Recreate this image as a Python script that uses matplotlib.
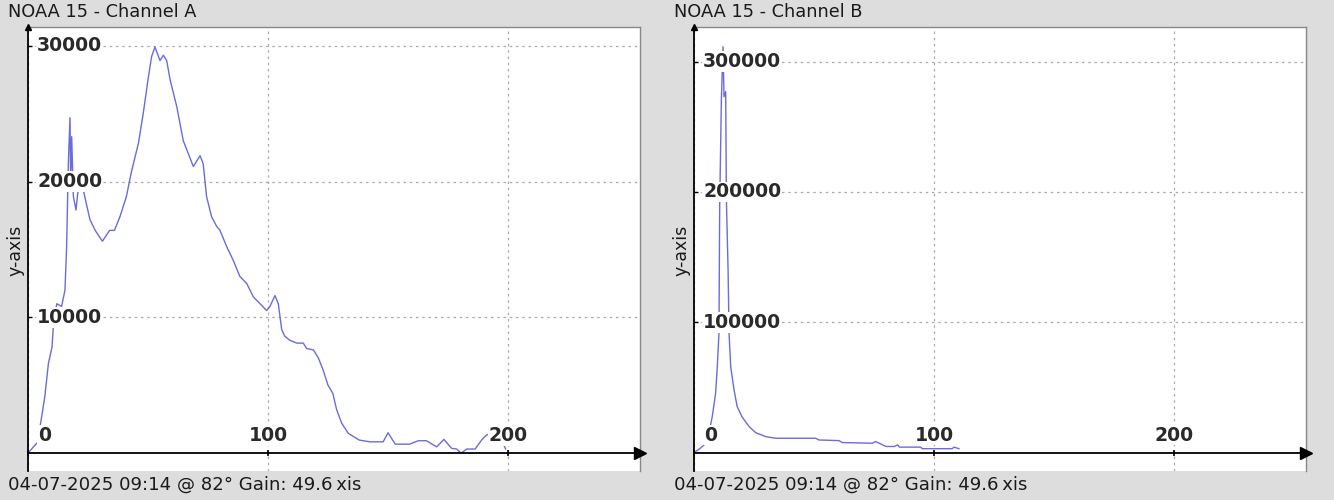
import matplotlib
matplotlib.use('Agg')
import matplotlib.pyplot as plt

# Дані каналу A
a_x = [0, 1, 4, 5.7, 7, 8.5, 10, 10.6, 12, 14, 15.4, 16.1, 16.8, 17.5, 17.8, 18.2, 18.9,
       20, 21, 23, 25.8, 28, 31, 34, 36, 38.3, 41, 43.2, 46, 48, 50, 51.5, 52.9, 55, 56.4,
       57.8, 59.2, 62, 64.7, 68.9, 71.7, 73, 74.4, 76.5, 78.6, 80, 82.8, 85.5, 88.3, 91.1,
       93.9, 96.7, 99.4, 100.8, 102.9, 104.3, 105.7, 107, 109.2, 112, 114.7, 116.1, 118.9,
       121, 123, 125, 127, 128.6, 130.7, 133.5, 138, 142.5, 148, 150, 153, 159, 162.6, 166,
       170.3, 173.3, 176.5, 178.6, 180.5, 182.8, 186.3, 189, 191, 194, 198, 199]
a_y = [0, 200, 800, 2700, 4150, 6600, 7800, 9500, 11000, 10800, 12000, 15200, 21300, 24700,
       19700, 23300, 18900, 17900, 19600, 19400, 17200, 16400, 15600, 16400, 16400, 17400,
       18900, 20800, 22800, 25000, 27500, 29200, 29900, 28900, 29300, 28900, 27500, 25500,
       23000, 21100, 21900, 21300, 18900, 17400, 16700, 16400, 15200, 14200, 13000, 12500,
       11500, 11000, 10500, 10800, 11600, 11000, 9100, 8600, 8300, 8100, 8100, 7700, 7600,
       7000, 6100, 5000, 4400, 3200, 2200, 1450, 960, 830, 830, 1500, 660, 660, 910, 910,
       460, 1010, 350, 300, 0, 300, 300, 960, 1330, 1500, 710, 300]

# Дані каналу B
b_x = [0, 2, 4.2, 6.2, 7.6, 9, 9.7, 10.4, 10.7, 11.4, 12.1, 12.5, 13.2, 13.5, 14.2, 14.6,
       15.3, 16.7, 18, 20, 23, 25.7, 30, 34, 50.7, 52, 60.4, 61.8, 74.3, 75.7, 80, 83.5,
       84.9, 85.6, 94.4, 95.1, 107.6, 108.3, 110.4]
b_y = [0, 2500, 5800, 14800, 27600, 45500, 65900, 91600, 188700, 270600, 311500, 273100,
       277000, 193900, 140100, 91800, 65900, 48000, 35200, 27500, 19900, 15300, 12200, 11000,
       11000, 9700, 9200, 7700, 7200, 8500, 4700, 4700, 6000, 4200, 4200, 3000, 3000, 4200,
       3000]

x_ticks = [0, 100, 200]
a_yticks = [10000, 20000, 30000]
b_yticks = [100000, 200000, 300000]

panels = [
    ('NOAA 15 - Channel A', a_x, a_y, a_yticks, (-1318, 31377), 28),
    ('NOAA 15 - Channel B', b_x, b_y, b_yticks, (-14120, 326630), 694),
]

BG = '#dddddd'
LINE = '#6b6bdc'
W, H = 1334, 500

fig = plt.figure(figsize=(13.34, 5), dpi=100, facecolor=BG)

for title, xs, ys, yt, ylim, left_px in panels:
    ax = fig.add_axes([left_px / W, 29 / H, 612 / W, 444 / H])
    ax.set_facecolor('white')
    ax.set_xlim(0, 255)
    ax.set_ylim(*ylim)
    ax.set_axisbelow(True)

    ax.plot(xs, ys, color=LINE, linewidth=1.0, zorder=2)

    # осі
    ax.spines['bottom'].set_position(('data', 0))
    ax.spines['bottom'].set_color('black')
    ax.spines['bottom'].set_linewidth(1.3)
    ax.spines['left'].set_color('black')
    ax.spines['left'].set_linewidth(1.3)
    for s in ('top', 'right'):
        ax.spines[s].set_color('#888888')
        ax.spines[s].set_linewidth(1.0)

    ax.set_xticks(x_ticks)
    ax.set_yticks(yt)
    ax.tick_params(axis='x', direction='inout', length=5, width=1.2, color='black',
                   labelbottom=False)
    ax.tick_params(axis='y', direction='in', length=3, width=1, color='black',
                   labelleft=False)
    ax.grid(True, linestyle=(0, (2, 3)), color='#aaaaaa', linewidth=0.9)

    # стрілки
    ax.plot(1, 0, '>', color='black', markersize=8, clip_on=False,
            transform=ax.get_yaxis_transform(), zorder=5)
    ax.plot(0, 1, '^', color='black', markersize=5, clip_on=False,
            transform=ax.get_xaxis_transform(), zorder=5)

    # підписи
    for v in yt:
        ax.annotate(f'{v}', xy=(0, v), xycoords=('axes fraction', 'data'),
                    xytext=(6.5, 0), textcoords='offset points', ha='left', va='center',
                    fontsize=13.6, fontweight='bold', color='#2a2a2a', zorder=4,
                    bbox=dict(fc='white', ec='none', pad=0.5))
    for v in x_ticks:
        dx = 12 if v == 0 else 0
        ax.annotate(f'{v}', xy=(v, 0), xycoords='data',
                    xytext=(dx, 12.5), textcoords='offset points', ha='center', va='center',
                    fontsize=13.6, fontweight='bold', color='#2a2a2a', zorder=4,
                    bbox=dict(fc='white', ec='none', pad=0.5))

    fig.text((left_px - 20) / W, 1 - 12 / H, title, fontsize=12.8, color='#1a1a1a',
             ha='left', va='center')
    fig.text((left_px - 13) / W, 1 - 250 / H, 'y-axis', rotation=90, fontsize=12.5,
             color='#1a1a1a', ha='center', va='center')
    # підпис осі x частково закритий рядком з датою, як в оригіналі
    fig.text((left_px + 334) / W, 1 - 485 / H, 'x-axis', fontsize=13, color='#1a1a1a',
             ha='right', va='center', zorder=1)
    fig.text((left_px - 20) / W, 1 - 485 / H, '04-07-2025 09:14 @ 82° Gain: 49.6',
             fontsize=13.1, color='#1a1a1a', ha='left', va='center', zorder=2,
             bbox=dict(fc=BG, ec='none', pad=1.5))

fig.savefig('out.png', dpi=100, facecolor=BG)
